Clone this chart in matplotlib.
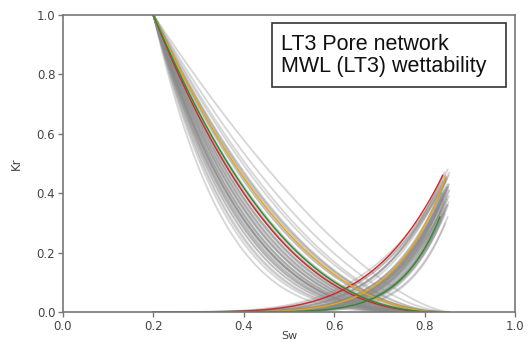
import matplotlib
matplotlib.use("Agg")
import matplotlib.pyplot as plt
import numpy as np
from matplotlib.patches import Rectangle

# ---- data (Corey-type relative permeability ensemble, parameters) ----
swc = 0.2
# highlighted curves: colour, Sor, no (oil exponent), nw (water exponent), krw end point
hl_colors = ["#d62728", "#e8a317", "#2e8b2e"]
hl_sor = [0.160, 0.153, 0.166]
hl_no = [2.45, 2.15, 2.30]
hl_nw = [4.3, 5.9, 7.3]
hl_krwmax = [0.46, 0.455, 0.32]

# gray ensemble
gray_sor = [0.145, 0.150, 0.155, 0.160, 0.148, 0.152, 0.158, 0.163, 0.147, 0.151,
            0.156, 0.161, 0.149, 0.154, 0.159, 0.146, 0.153, 0.157, 0.162, 0.150,
            0.155, 0.148, 0.152, 0.158, 0.146, 0.151, 0.156, 0.160, 0.149, 0.154,
            0.147, 0.157, 0.150, 0.162, 0.153, 0.145, 0.159, 0.151, 0.164, 0.148,
            0.156, 0.152, 0.161, 0.147, 0.155, 0.150, 0.158, 0.146, 0.163, 0.154]
gray_no = [1.50, 1.70, 1.90, 2.00, 2.10, 2.20, 2.30, 2.40, 2.50, 2.60,
           2.70, 2.80, 2.90, 3.00, 3.10, 3.20, 3.30, 3.40, 3.50, 3.60,
           3.80, 4.00, 4.30, 2.55, 2.65, 2.75, 2.85, 2.95, 3.05, 3.15,
           3.25, 3.35, 3.45, 2.45, 2.35, 2.25, 2.60, 2.80, 3.00, 3.20,
           2.70, 2.90, 3.10, 2.50, 3.30, 2.40, 3.70, 2.15, 1.80, 2.05]
gray_nw = [3.8, 4.2, 4.6, 5.0, 5.3, 5.6, 5.9, 6.2, 6.5, 6.8,
           7.1, 7.4, 7.7, 8.0, 5.1, 5.4, 5.7, 6.0, 6.3, 6.6,
           6.9, 7.2, 5.5, 5.8, 6.1, 6.4, 6.7, 7.0, 4.4, 4.8,
           5.2, 6.0, 6.3, 6.6, 5.9, 6.2, 6.5, 6.8, 7.3, 5.6,
           4.9, 5.5, 6.1, 6.7, 7.0, 5.8, 6.4, 4.0, 7.6, 6.0]
gray_krwmax = [0.47, 0.45, 0.44, 0.46, 0.42, 0.40, 0.43, 0.38, 0.41, 0.36,
               0.35, 0.33, 0.32, 0.30, 0.44, 0.39, 0.42, 0.37, 0.40, 0.38,
               0.34, 0.36, 0.45, 0.41, 0.43, 0.39, 0.37, 0.35, 0.48, 0.46,
               0.43, 0.40, 0.42, 0.38, 0.44, 0.41, 0.39, 0.36, 0.34, 0.42,
               0.47, 0.45, 0.40, 0.37, 0.33, 0.43, 0.38, 0.46, 0.31, 0.41]

xticks = [0.0, 0.2, 0.4, 0.6, 0.8, 1.0]
yticks = [0.0, 0.2, 0.4, 0.6, 0.8, 1.0]
title_lines = ["LT3 Pore network", "MWL (LT3) wettability"]

# ---- figure ----
fig = plt.figure(figsize=(5.28, 3.43), dpi=100)
ax = fig.add_axes([63/528, 1 - 312/343, (515-63)/528, (312-15)/343])


def corey(sor, no, nw, krwmax):
    sw = np.linspace(swc, 1 - sor, 200)
    s = (sw - swc) / (1 - swc - sor)
    return sw, (1 - s) ** no, krwmax * s ** nw


for sor, no, nw, km in zip(gray_sor, gray_no, gray_nw, gray_krwmax):
    sw, kro, krw = corey(sor, no, nw, km)
    ax.plot(sw, kro, color="#8a8a8a", lw=1.3, alpha=0.35, solid_capstyle="round")
    ax.plot(sw, krw, color="#8a8a8a", lw=1.3, alpha=0.35, solid_capstyle="round")

for c, sor, no, nw, km in zip(hl_colors, hl_sor, hl_no, hl_nw, hl_krwmax):
    sw, kro, krw = corey(sor, no, nw, km)
    ax.plot(sw, kro, color=c, lw=1.0)
    ax.plot(sw, krw, color=c, lw=1.0)

ax.set_xlim(0, 1)
ax.set_ylim(0, 1)
ax.set_xticks(xticks)
ax.set_yticks(yticks)
ax.set_xticklabels([f"{v:.1f}" for v in xticks])
ax.set_yticklabels([f"{v:.1f}" for v in yticks])
for s in ax.spines.values():
    s.set_color("#777777")
    s.set_linewidth(1.2)
ax.tick_params(colors="#777777", labelcolor="#444444", labelsize=8.5, length=3.5, width=1.0, pad=2)
ax.set_xlabel("Sw", fontsize=8, color="#444444", labelpad=-1.5)
ax.set_ylabel("Kr", fontsize=8.5, color="#444444", labelpad=10)

# annotation box
x0 = (272-63)/452; x1 = (506-63)/452
y0 = (312-87)/297; y1 = (312-23)/297
ax.add_patch(Rectangle((x0, y0), x1-x0, y1-y0, transform=ax.transAxes,
                       facecolor="white", edgecolor="#333333", lw=1.2, zorder=5))
tx = (281-63)/452
ax.text(tx, (312-50)/297, title_lines[0], transform=ax.transAxes, fontsize=15.5,
        family="Liberation Sans", color="#111111", va="baseline", zorder=6)
ax.text(tx, (312-72)/297, title_lines[1], transform=ax.transAxes, fontsize=15.5,
        family="Liberation Sans", color="#111111", va="baseline", zorder=6)

fig.savefig("out.png", dpi=100)
